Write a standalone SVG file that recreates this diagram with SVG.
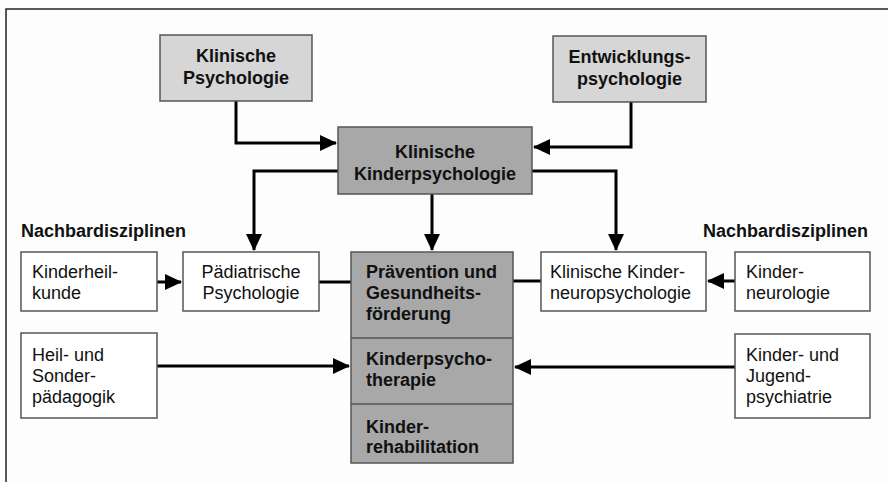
<svg xmlns="http://www.w3.org/2000/svg" width="888" height="482" viewBox="0 0 888 482">
<style>
  .box { stroke: #555; stroke-width: 1.5; }
  .light { fill: #d6d6d6; }
  .dark { fill: #a8a8a8; }
  .white { fill: #ffffff; }
  .t { font-family: "Liberation Sans", Arial, sans-serif; font-size: 18px; fill: #111; }
  .b { font-weight: bold; }
  .c { text-anchor: middle; }
  .conn { fill: none; stroke: #000; stroke-width: 3; }
</style>
<defs>
  <marker id="ah" markerUnits="userSpaceOnUse" markerWidth="17" markerHeight="16" refX="16" refY="8" orient="auto">
    <path d="M0,0 L17,8 L0,16 Z" fill="#000"/>
  </marker>
</defs>
<rect x="0" y="0" width="888" height="482" fill="#fdfdfd"/>
<path d="M6,482 V9 H888" fill="none" stroke="#222" stroke-width="1.5"/>

<g id="connectors">
  <path class="conn" d="M236,101 V143 H336" marker-end="url(#ah)"/>
  <path class="conn" d="M631,102 V147 H534" marker-end="url(#ah)"/>
  <path class="conn" d="M338,171 H254 V250" marker-end="url(#ah)"/>
  <path class="conn" d="M432,194 V250" marker-end="url(#ah)"/>
  <path class="conn" d="M532,171 H616 V250" marker-end="url(#ah)"/>
  <path class="conn" d="M157,282 H181" marker-end="url(#ah)"/>
  <path class="conn" d="M319,282 H351"/>
  <path class="conn" d="M513,281 H541"/>
  <path class="conn" d="M735,281 H708" marker-end="url(#ah)"/>
  <path class="conn" d="M157,366 H349" marker-end="url(#ah)"/>
  <path class="conn" d="M735,367 H515" marker-end="url(#ah)"/>
</g>

<g id="klinische-psychologie">
  <rect class="box light" x="160" y="35" width="152" height="66"/>
  <text class="t b c" x="236" y="62">Klinische</text>
  <text class="t b c" x="236" y="83.5">Psychologie</text>
</g>
<g id="entwicklungspsychologie">
  <rect class="box light" x="553" y="36" width="153" height="66"/>
  <text class="t b c" x="629.5" y="63">Entwicklungs-</text>
  <text class="t b c" x="629.5" y="85">psychologie</text>
</g>
<g id="klinische-kinderpsychologie">
  <rect class="box dark" x="338" y="127" width="194" height="67"/>
  <text class="t b c" x="435" y="158">Klinische</text>
  <text class="t b c" x="435" y="180">Kinderpsychologie</text>
</g>

<text class="t b" x="21" y="237" font-size="18.5">Nachbardisziplinen</text>
<text class="t b" x="703" y="237" font-size="18.5">Nachbardisziplinen</text>

<g id="kinderheilkunde">
  <rect class="box white" x="21" y="252" width="136" height="59"/>
  <text class="t" x="32" y="277.5">Kinderheil-</text>
  <text class="t" x="32" y="298.5">kunde</text>
</g>
<g id="paediatrische-psychologie">
  <rect class="box white" x="183" y="252" width="136" height="59"/>
  <text class="t c" x="251" y="277.5">Pädiatrische</text>
  <text class="t c" x="251" y="298.5">Psychologie</text>
</g>
<g id="zentrum">
  <rect class="box dark" x="351" y="252" width="162" height="211"/>
  <line x1="351" y1="338" x2="513" y2="338" stroke="#555" stroke-width="1.5"/>
  <line x1="351" y1="404" x2="513" y2="404" stroke="#555" stroke-width="1.5"/>
  <text class="t b" x="366" y="277.5">Prävention und</text>
  <text class="t b" x="366" y="298.5">Gesundheits-</text>
  <text class="t b" x="366" y="319.5">förderung</text>
  <text class="t b" x="366" y="365">Kinderpsycho-</text>
  <text class="t b" x="366" y="386">therapie</text>
  <text class="t b" x="366" y="432.5">Kinder-</text>
  <text class="t b" x="366" y="453">rehabilitation</text>
</g>
<g id="klinische-kinderneuropsychologie">
  <rect class="box white" x="541" y="252" width="165" height="59"/>
  <text class="t" x="550" y="277.5">Klinische Kinder-</text>
  <text class="t" x="550" y="298.5">neuropsychologie</text>
</g>
<g id="kinderneurologie">
  <rect class="box white" x="735" y="252" width="135" height="59"/>
  <text class="t" x="746" y="277.5">Kinder-</text>
  <text class="t" x="746" y="298.5">neurologie</text>
</g>
<g id="heil-sonderpaedagogik">
  <rect class="box white" x="21" y="333" width="136" height="85"/>
  <text class="t" x="32" y="360.5">Heil- und</text>
  <text class="t" x="32" y="381.5">Sonder-</text>
  <text class="t" x="32" y="402.5">pädagogik</text>
</g>
<g id="kinder-jugendpsychiatrie">
  <rect class="box white" x="735" y="334" width="135" height="84"/>
  <text class="t" x="746" y="360.5">Kinder- und</text>
  <text class="t" x="746" y="381.5">Jugend-</text>
  <text class="t" x="746" y="402.5">psychiatrie</text>
</g>
</svg>
